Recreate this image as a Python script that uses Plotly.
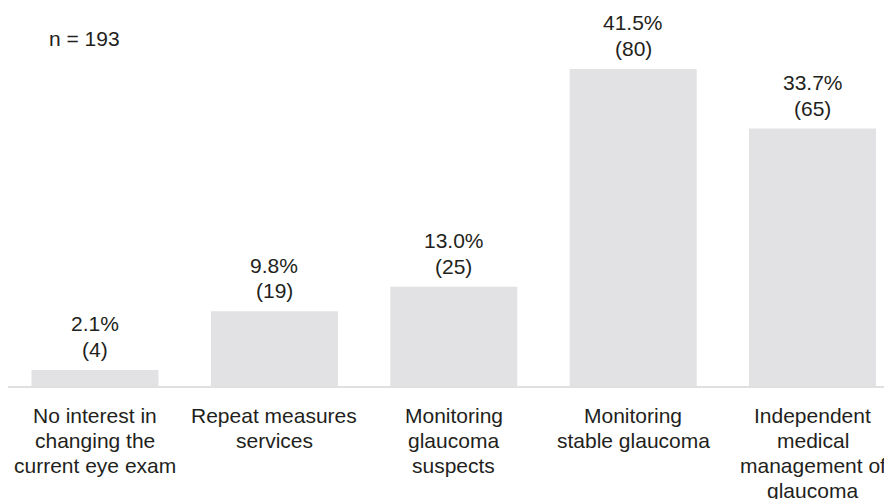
import plotly.graph_objects as go

categories = [
    "No interest in<br>changing the<br>current eye exam",
    "Repeat measures<br>services",
    "Monitoring<br>glaucoma<br>suspects",
    "Monitoring<br>stable glaucoma",
    "Independent<br>medical<br>management of<br>glaucoma",
]
percents = [2.1, 9.8, 13.0, 41.5, 33.7]
counts = [4, 19, 25, 80, 65]
total_n = 193

FONT = "Liberation Sans, Arial, Helvetica, sans-serif"
TXT = "#231f20"
FS = 21
LINE = 25.5

xs = list(range(len(categories)))

fig = go.Figure()
fig.add_trace(go.Bar(
    x=xs, y=percents, width=0.708,
    marker=dict(color="#e2e2e4", line=dict(width=0)),
    hoverinfo="skip",
))

# value labels above bars (two lines)
for x, p, c in zip(xs, percents, counts):
    for k, line in enumerate([f"{p:.1f}%", f"({c})"]):
        fig.add_annotation(
            x=x, y=p, xref="x", yref="y",
            text=line, showarrow=False, yanchor="middle",
            yshift=20.5 + (1 - k) * LINE,
            font=dict(family=FONT, size=FS, color=TXT),
        )

# category labels below baseline, one annotation per line
for x, cat in zip(xs, categories):
    for k, line in enumerate(cat.split("<br>")):
        fig.add_annotation(
            x=x, y=0, xref="x", yref="y",
            text=line, showarrow=False, yanchor="middle",
            yshift=-(29 + k * 25),
            font=dict(family=FONT, size=FS, color=TXT),
        )

fig.add_annotation(
    x=39 / 879, y=1 - 31 / 378, xref="paper", yref="paper",
    text=f"n = {total_n}",
    showarrow=False, xanchor="left", yanchor="middle",
    font=dict(family=FONT, size=FS, color=TXT),
)

fig.update_layout(
    width=884, height=491,
    margin=dict(l=0, r=5, t=0, b=113, autoexpand=False),
    paper_bgcolor="white", plot_bgcolor="white",
    showlegend=False,
    font=dict(family=FONT, size=FS, color=TXT),
    xaxis=dict(
        range=[-0.485, 4.415], automargin=False,
        tickmode="array", tickvals=xs, showticklabels=False,
        showgrid=False, zeroline=False,
        showline=True, linecolor="#e0e0e0", linewidth=2,
        ticks="",
    ),
    yaxis=dict(
        range=[0, 49.48], visible=False, showgrid=False, zeroline=False,
        automargin=False,
    ),
)

fig.write_html("out.html")
